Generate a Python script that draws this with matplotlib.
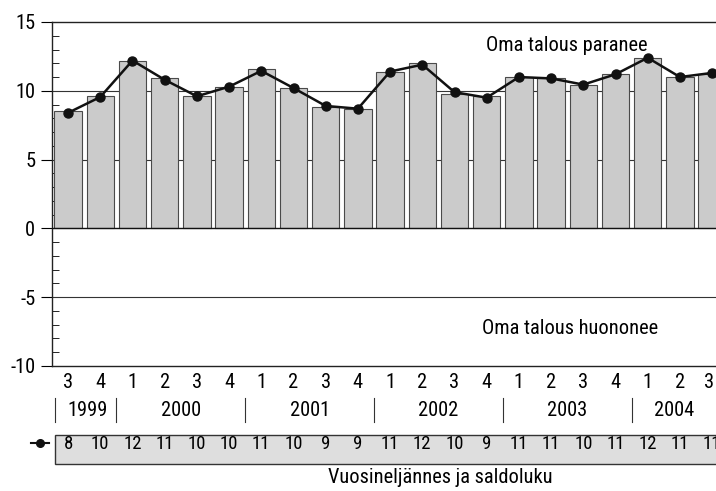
import matplotlib.pyplot as plt
from matplotlib.patches import Rectangle
from matplotlib.lines import Line2D

plt.rcParams['font.family'] = ['Roboto Condensed', 'Archivo Narrow', 'PT Sans Narrow',
                               'Liberation Sans Narrow', 'DejaVu Sans']
plt.rcParams['axes.unicode_minus'] = False

# neljännekset 1999Q3 ... 2004Q3
quarters = ['3', '4', '1', '2', '3', '4', '1', '2', '3', '4', '1', '2', '3', '4',
            '1', '2', '3', '4', '1', '2', '3']
years = ['1999', '2000', '2001', '2002', '2003', '2004']
year_sizes = [2, 4, 4, 4, 4, 3]
bar_values = [8.5, 9.6, 12.2, 10.9, 9.6, 10.3, 11.6, 10.2, 8.8, 8.7, 11.4, 12.0,
              9.8, 9.6, 11.0, 10.9, 10.4, 11.2, 12.4, 11.0, 11.2]
line_values = [8.4, 9.55, 12.2, 10.8, 9.6, 10.3, 11.45, 10.2, 8.9, 8.7, 11.4, 11.9,
               9.9, 9.5, 11.0, 10.9, 10.45, 11.2, 12.4, 11.0, 11.3]
saldo = [8, 10, 12, 11, 10, 10, 11, 10, 9, 9, 11, 12, 10, 9, 11, 11, 10, 11, 12, 11, 11]

x = list(range(len(quarters)))
xmax = 20.12
fs = 14.7

fig = plt.figure(figsize=(7.16, 4.91), dpi=100)
ax = fig.add_axes([0.0726, 0.2546, 0.9274, 0.7006])

# apuviivat
for yv in [10, 5, -5]:
    ax.axhline(yv, color='#333333', lw=0.8, zorder=1)
ax.axhline(0, color='#111111', lw=1.0, zorder=3)

ax.bar(x, bar_values, width=0.85, color='#cbcbcb', edgecolor='#4a4a4a', lw=0.8, zorder=2)
ax.plot(x, line_values, color='#111111', lw=1.8, marker='o', ms=6.5, zorder=4)

ax.set_xlim(-0.5, xmax)
ax.set_ylim(-10, 15)
ax.set_yticks([-10, -5, 0, 5, 10, 15])
ax.set_yticks(range(-10, 16), minor=True)
ax.tick_params(axis='y', which='major', direction='out', length=8, width=0.8, labelsize=fs, pad=4)
ax.tick_params(axis='y', which='minor', direction='in', length=5, width=0.6)
ax.set_xticks([])
ax.spines['right'].set_visible(False)
for s in ['left', 'top', 'bottom']:
    ax.spines[s].set_color('#222222')
    ax.spines[s].set_linewidth(1.0)

ax.text(15.5, 13.3, 'Oma talous paranee', fontsize=fs, ha='center', va='center')
ax.text(15.6, -7.3, 'Oma talous huononee', fontsize=fs, ha='center', va='center')

tr = ax.get_xaxis_transform()

# neljännekset
for xi, q in zip(x, quarters):
    ax.text(xi - (0.1 if xi == x[-1] else 0), -0.049, q, transform=tr, fontsize=fs,
            ha='center', va='center')

# vuodet ja erottimet
start = 0
for yr, n in zip(years, year_sizes):
    left = start - 0.5
    right = min(start + n - 0.5, xmax)
    sep_x = -0.42 if start == 0 else left
    ax.add_line(Line2D([sep_x, sep_x], [-0.093, -0.163], transform=tr,
                       color='#333333', lw=0.8, clip_on=False))
    ax.text((left + right) / 2 + (0.1 if start == 0 else 0), -0.128, yr, transform=tr,
            fontsize=fs, ha='center', va='center')
    start += n

# saldolukutaulukko
ax.add_patch(Rectangle((-0.42, -0.285), xmax + 0.42 + 0.5, 0.085, transform=tr,
                       facecolor='#dedede', edgecolor='#333333', lw=1.0, clip_on=False))
for xi, v in zip(x, saldo):
    ax.text(xi, -0.226, str(v), transform=tr, fontsize=13.5, ha='center', va='center')
ax.add_line(Line2D([-1.14, -0.6], [-0.224, -0.224], transform=tr, color='#111111',
                   lw=1.5, clip_on=False))
ax.add_line(Line2D([-0.87], [-0.224], transform=tr, color='#111111', marker='o',
                   ms=5.5, clip_on=False))

fig.text(0.615, 0.028, 'Vuosineljännes ja saldoluku', fontsize=fs, ha='center', va='center')

fig.savefig('out.png', dpi=100)
